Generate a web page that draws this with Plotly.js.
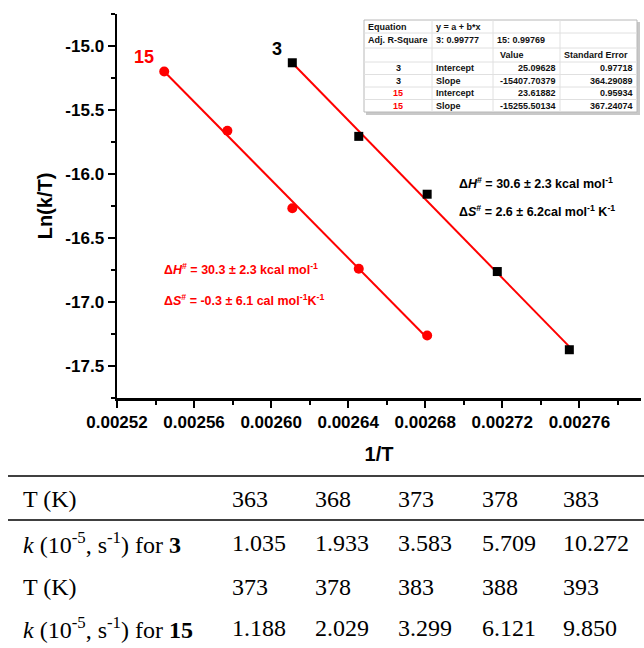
<!DOCTYPE html>
<html>
<head>
<meta charset="utf-8">
<script src="https://cdn.plot.ly/plotly-3.0.1.min.js"></script>
<style>html,body{margin:0;padding:0;background:#fff;}#chart{width:644px;height:648px;}</style>
</head>
<body>
<div id="chart"></div>
<script>
// ---- data ----
const invT3   = [0.0026110, 0.0026455, 0.0026810, 0.0027174, 0.0027548];
const lnkT3   = [-15.131, -15.706, -16.158, -16.762, -17.373];
const invT15  = [0.0025445, 0.0025773, 0.0026110, 0.0026455, 0.0026810];
const lnkT15  = [-15.199, -15.662, -16.267, -16.740, -17.262];
const fitIntercept = [25.09628, 23.61882];      // [3, 15]
const fitSlope     = [-15407.70379, -15255.50134];

const yTickVals = [-15.0, -15.5, -16.0, -16.5, -17.0, -17.5];
const yTickText = ['-15.0', '-15.5', '-16.0', '-16.5', '-17.0', '-17.5'];
const xTickVals = [0.00252, 0.00256, 0.00260, 0.00264, 0.00268, 0.00272, 0.00276];
const xTickText = ['0.00252', '0.00256', '0.00260', '0.00264', '0.00268', '0.00272', '0.00276'];

const insetRows = [
  ['Equation', 'y = a + b*x', '', ''],
  ['Adj. R-Square', '3: 0.99777', '15: 0.99769', ''],
  ['', '', 'Value', 'Standard Error'],
  ['3', 'Intercept', '25.09628', '0.97718'],
  ['3', 'Slope', '-15407.70379', '364.29089'],
  ['15', 'Intercept', '23.61882', '0.95934'],
  ['15', 'Slope', '-15255.50134', '367.24074']
];

const annot3  = ['Δ<i>H</i><sup>#</sup> = 30.6 ± 2.3 kcal mol<sup>-1</sup>', 'Δ<i>S</i><sup>#</sup> = 2.6 ± 6.2cal mol<sup>-1</sup> K<sup>-1</sup>'];
const annot15 = ['Δ<i>H</i><sup>#</sup> = 30.3 ± 2.3 kcal mol<sup>-1</sup>', 'Δ<i>S</i><sup>#</sup> = -0.3 ± 6.1 cal mol<sup>-1</sup>K<sup>-1</sup>'];

const tableLabels = ['T (K)', '<i>k</i> (10<sup>-5</sup>, s<sup>-1</sup>) for <b>3</b>', 'T (K)', '<i>k</i> (10<sup>-5</sup>, s<sup>-1</sup>) for <b>15</b>'];
const T3  = ['363', '368', '373', '378', '383'];
const k3  = ['1.035', '1.933', '3.583', '5.709', '10.272'];
const T15 = ['373', '378', '383', '388', '393'];
const k15 = ['1.188', '2.029', '3.299', '6.121', '9.850'];

// ---- layout geometry (pixels) ----
const W = 644, H = 648;
const L = 117, R = 3, T = 14, B = 250;
const PW = W - L - R, PH = H - T - B;
const fx = px => (px - L) / PW;
const fy = py => (T + PH - py) / PH;

const RED = '#ff0000';
const SANS = 'Arial, "Liberation Sans", sans-serif';
const SERIF = '"Times New Roman", "Liberation Serif", serif';
const bold = s => '<b>' + s + '</b>';

function fitLine(xs, i) {
  const x0 = Math.min(...xs), x1 = Math.max(...xs);
  return {x: [x0, x1], y: [fitIntercept[i] + fitSlope[i] * x0, fitIntercept[i] + fitSlope[i] * x1]};
}
const f3 = fitLine(invT3, 0), f15 = fitLine(invT15, 1);

const traces = [
  {x: f3.x, y: f3.y, mode: 'lines', line: {color: RED, width: 2}, hoverinfo: 'skip'},
  {x: f15.x, y: f15.y, mode: 'lines', line: {color: RED, width: 2}, hoverinfo: 'skip'},
  {x: invT3, y: lnkT3, mode: 'markers', marker: {symbol: 'square', size: 9, color: '#000'}, name: '3'},
  {x: invT15, y: lnkT15, mode: 'markers', marker: {symbol: 'circle', size: 10, color: RED}, name: '15'}
];

const shapes = [];
const annotations = [];

// inset fit table
const colB = [364, 432, 493, 560, 637];
const rowB = [20, 33, 48, 62, 74.5, 87, 99.5, 112];
shapes.push({type: 'rect', xref: 'paper', yref: 'paper', x0: fx(colB[0] + 2), x1: fx(colB[4] + 3), y0: fy(rowB[0] + 2), y1: fy(rowB[7] + 3), line: {width: 0}, fillcolor: '#c8c8c8', layer: 'above'});
shapes.push({type: 'rect', xref: 'paper', yref: 'paper', x0: fx(colB[0]), x1: fx(colB[4]), y0: fy(rowB[0]), y1: fy(rowB[7]), line: {width: 1, color: '#b8b8b8'}, fillcolor: '#ffffff', layer: 'above'});
for (let r = 1; r < rowB.length - 1; r++) {
  shapes.push({type: 'line', xref: 'paper', yref: 'paper', x0: fx(colB[0]), x1: fx(colB[4]), y0: fy(rowB[r]), y1: fy(rowB[r]), line: {width: 1, color: '#e0e0e0'}, layer: 'above'});
}
for (let c = 1; c < colB.length - 1; c++) {
  shapes.push({type: 'line', xref: 'paper', yref: 'paper', x0: fx(colB[c]), x1: fx(colB[c]), y0: fy(rowB[0]), y1: fy(rowB[7]), line: {width: 1, color: '#e0e0e0'}, layer: 'above'});
}
insetRows.forEach((row, r) => {
  const cy = (rowB[r] + rowB[r + 1]) / 2;
  row.forEach((txt, c) => {
    if (!txt) return;
    let x, anchor;
    const numeric = r >= 3 && c >= 2;
    if (c === 0 && r >= 3) { x = (colB[0] + colB[1]) / 2; anchor = 'center'; }
    else if (numeric) { x = colB[c + 1] - 2; anchor = 'right'; }
    else if (c === 2 && r === 2) { x = colB[c] + 5; anchor = 'left'; }
    else { x = colB[c] + 2; anchor = 'left'; }
    annotations.push({
      xref: 'paper', yref: 'paper', x: fx(x), y: fy(cy), xanchor: anchor, yanchor: 'middle',
      text: bold(txt), showarrow: false,
      font: {family: SANS, size: 9, color: (c === 0 && r >= 5) ? RED : '#111'}
    });
  });
});

// series labels
annotations.push({xref: 'x', yref: 'y', x: invT15[0], y: lnkT15[0], ax: -20, ay: -14, axref: 'pixel', ayref: 'pixel', showarrow: true, arrowcolor: 'rgba(0,0,0,0)', arrowwidth: 0.1, text: bold('15'), font: {family: SANS, size: 18, color: RED}});
annotations.push({xref: 'x', yref: 'y', x: invT3[0], y: lnkT3[0], ax: -15, ay: -14, axref: 'pixel', ayref: 'pixel', showarrow: true, arrowcolor: 'rgba(0,0,0,0)', arrowwidth: 0.1, text: bold('3'), font: {family: SANS, size: 18, color: '#000'}});

// activation parameters
const ann3Y = [183, 211], ann15Y = [269, 300];
annot3.forEach((t, i) => annotations.push({xref: 'paper', yref: 'paper', x: fx(457), y: fy(ann3Y[i]), xanchor: 'left', yanchor: 'middle', showarrow: false, text: bold(t), font: {family: SANS, size: 12.5, color: '#000'}}));
annot15.forEach((t, i) => annotations.push({xref: 'paper', yref: 'paper', x: fx(162), y: fy(ann15Y[i]), xanchor: 'left', yanchor: 'middle', showarrow: false, text: bold(t), font: {family: SANS, size: 12.5, color: RED}}));

// bottom data table
shapes.push({type: 'line', xref: 'paper', yref: 'paper', x0: fx(8), x1: fx(644), y0: fy(476), y1: fy(476), line: {width: 1.5, color: '#000'}});
shapes.push({type: 'line', xref: 'paper', yref: 'paper', x0: fx(8), x1: fx(644), y0: fy(520), y1: fy(520), line: {width: 1.5, color: '#000'}});
const rowY = [499, 543, 587, 628];
const colX = [230, 313, 396, 480, 561];
const tableRows = [T3, k3, T15, k15];
tableLabels.forEach((lab, r) => {
  annotations.push({xref: 'paper', yref: 'paper', x: fx(21), y: fy(rowY[r]), xanchor: 'left', yanchor: 'middle', showarrow: false, text: lab, font: {family: SERIF, size: 24, color: '#000'}});
  tableRows[r].forEach((v, c) => {
    annotations.push({xref: 'paper', yref: 'paper', x: fx(colX[c]), y: fy(rowY[r]), xanchor: 'left', yanchor: 'middle', showarrow: false, text: v, font: {family: SERIF, size: 24, color: '#000'}});
  });
});

const layout = {
  width: W, height: H,
  margin: {l: L, r: R, t: T, b: B, pad: 0},
  paper_bgcolor: '#fff', plot_bgcolor: '#fff',
  showlegend: false,
  xaxis: {
    range: [0.00252, 0.002792], showgrid: false, zeroline: false,
    showline: true, linewidth: 2.5, linecolor: '#000',
    ticks: 'outside', ticklen: 7, tickwidth: 2, tickcolor: '#000',
    tickvals: xTickVals, ticktext: xTickText.map(bold),
    tickfont: {family: SANS, size: 17, weight: 'bold', color: '#000'},
    minor: {dtick: 0.00002, tick0: 0.00252, ticks: 'outside', ticklen: 4, tickwidth: 2, tickcolor: '#000', showgrid: false},
    title: {text: bold('1/T'), standoff: 16, font: {family: SANS, size: 20, color: '#000'}}
  },
  yaxis: {
    range: [-17.75, -14.75], showgrid: false, zeroline: false,
    showline: true, linewidth: 2.5, linecolor: '#000',
    ticks: 'outside', ticklen: 7, tickwidth: 2, tickcolor: '#000',
    tickvals: yTickVals, ticktext: yTickText.map(bold),
    tickfont: {family: SANS, size: 17, weight: 'bold', color: '#000'},
    minor: {dtick: 0.25, tick0: -15, ticks: 'outside', ticklen: 4, tickwidth: 2, tickcolor: '#000', showgrid: false},
    title: {text: bold('Ln(k/T)'), standoff: 8, font: {family: SANS, size: 20, color: '#000'}}
  },
  shapes: shapes,
  annotations: annotations
};

Plotly.newPlot('chart', traces, layout, {displayModeBar: false, staticPlot: true});
</script>
</body>
</html>
